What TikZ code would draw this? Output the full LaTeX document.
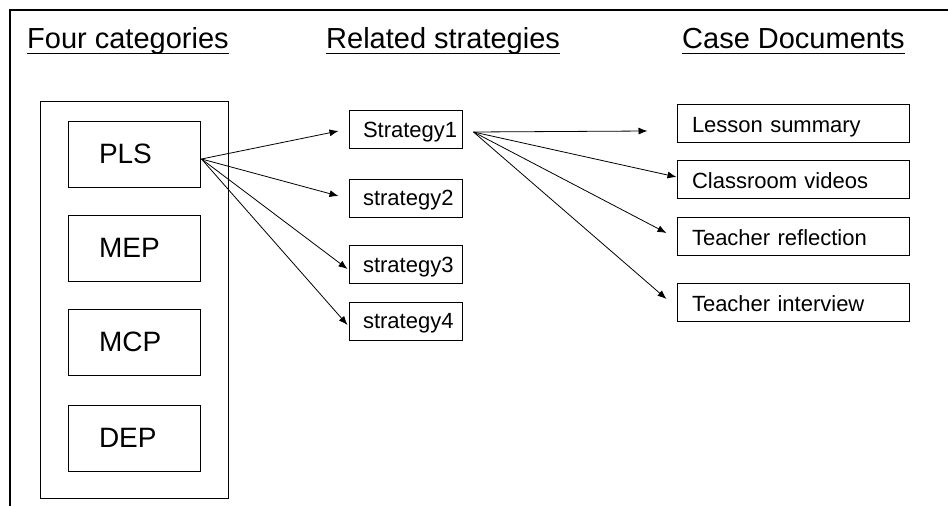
\documentclass[tikz,border=0pt]{standalone}
\usepackage{fontspec}
\setmainfont{Liberation Sans}
\usetikzlibrary{arrows.meta,calc}
\begin{document}
\begin{tikzpicture}[x=1pt,y=-1pt,
  title/.style={inner sep=0pt, anchor=base west, font=\fontsize{29}{33}\selectfont},
  uline/.style={line width=1pt},
  frame/.style={line width=2pt},
  outerbox/.style={draw, line width=1pt, inner sep=0pt},
  catbox/.style={draw, line width=1pt, inner sep=0pt, minimum height=66pt, text width=132pt, text height=20pt, text depth=2pt, align=left, font=\fontsize{28}{32}\selectfont, execute at begin node=\hspace*{31pt}},
  stratbox/.style={draw, line width=1pt, inner sep=0pt, minimum height=38pt, text width=113pt, text height=16pt, text depth=1pt, align=left, font=\fontsize{22}{26}\selectfont, execute at begin node=\hspace*{14pt}},
  casebox/.style={draw, line width=1pt, inner sep=0pt, minimum height=38pt, text width=232pt, text height=19pt, text depth=1pt, align=left, font=\fontsize{22}{26}\selectfont, execute at begin node=\hspace*{15pt}},
  conn/.style={line width=0.8pt, -{Latex[length=9pt,width=7pt]}}
]
\useasboundingbox (0,0) rectangle (948,506);
\draw[frame] (10,506) -- (10,10) -- (948,10);

% titles
\node[title] (t1) at (27,48) {Four categories};
\node[title] (t2) at (326,48) {Related strategies};
\node[title] (t3) at (682,48) {Case Documents};
\foreach \t in {t1,t2,t3}
  \draw[uline] ($(\t.base west)+(0,5)$) -- ($(\t.base east)+(0,5)$);

% categories
\node[outerbox, minimum width=188pt, minimum height=397pt] (grp) at (134,299.5) {};
\node[catbox] (pls) at (134,154) {PLS};
\node[catbox] (mep) at (134,248.5) {MEP};
\node[catbox] (mcp) at (134,342.5) {MCP};
\node[catbox] (dep) at (134,438.5) {DEP};

% strategies
\node[stratbox] (s1) at (405.5,129.5) {Strategy1};
\node[stratbox] (s2) at (405.5,198) {strategy2};
\node[stratbox] (s3) at (405.5,264.5) {strategy3};
\node[stratbox] (s4) at (405.5,321) {strategy4};

% case documents
\node[casebox] (ls) at (793,123) {Lesson summary};
\node[casebox] (cv) at (793,179.5) {Classroom videos};
\node[casebox] (tr) at (793,236.5) {Teacher reflection};
\node[casebox] (ti) at (793,302) {Teacher interview};

% connector points
\coordinate (plsout) at ($(pls.east)+(1,5)$);
\coordinate (s1out) at ($(s1.east)+(11,2.5)$);
\coordinate (lsend) at ($(ls.west)+(-29,8)$);

\draw[conn] (plsout) -- ($(s1.west)+(-10,1.5)$);
\draw[conn] (plsout) -- ($(s2.west)+(-10,-2)$);
\draw[conn] (plsout) -- ($(s3.west)+(-1,4.5)$);
\draw[conn] (plsout) -- ($(s4.west)+(-1,4)$);

\draw[conn] (s1out) -- (lsend);
\draw[conn] (s1out) -- ($(cv.west)+(0,-2.5)$);
\draw[conn] (s1out) -- ($(tr.west)+(-10,-3.5)$);
\draw[conn] (s1out) -- ($(ti.west)+(-10,-3)$);
\end{tikzpicture}
\end{document}
